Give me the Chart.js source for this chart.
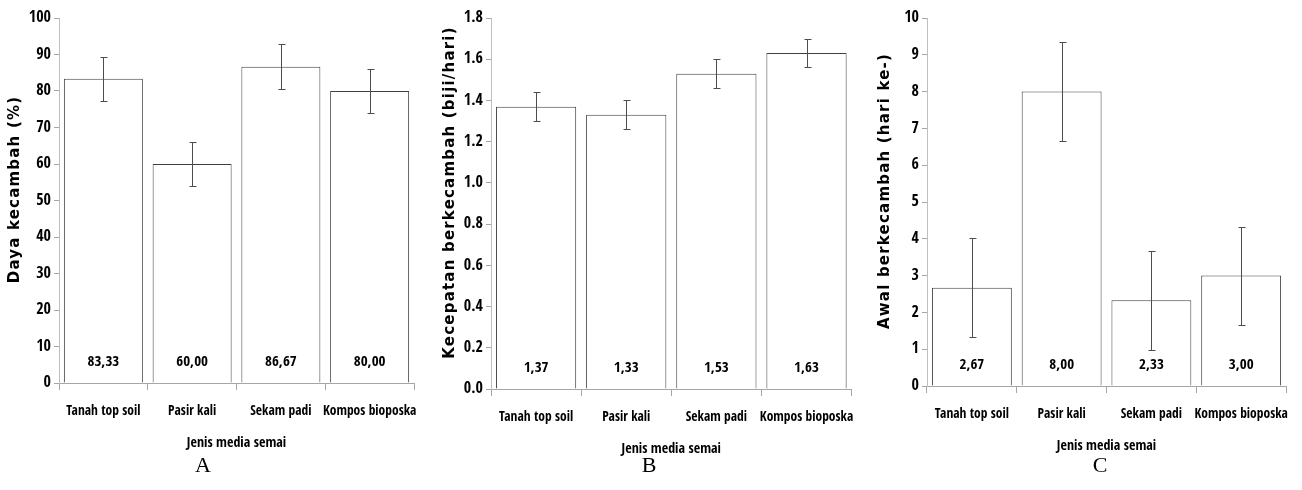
<!DOCTYPE html>
<html>
<head>
<meta charset="utf-8">
<script src="https://cdn.jsdelivr.net/npm/chart.js@4.4.0/dist/chart.umd.min.js"></script>
<style>
  body { margin: 0; background: #fff; }
  .wrap { position: absolute; top: 0; width: 434px; height: 490px; }
  .letter { position: absolute; top: 452px; font-family: "Liberation Serif", serif; font-size: 22px; color: #000; transform: translateX(-50%); }
</style>
</head>
<body>
<div class="wrap" style="left:0"><canvas id="chartA" width="434" height="490"></canvas></div>
<div class="wrap" style="left:434px"><canvas id="chartB" width="434" height="490"></canvas></div>
<div class="wrap" style="left:868px"><canvas id="chartC" width="434" height="490"></canvas></div>
<div class="letter" style="left:203px">A</div>
<div class="letter" style="left:649px">B</div>
<div class="letter" style="left:1100px">C</div>
<script>
const categories = ["Tanah top soil", "Pasir kali", "Sekam padi", "Kompos bioposka"];

// A - daya kecambah (%)
const dayaKecambah = [83.33, 60.00, 86.67, 80.00];
const dayaErr = [6.05, 5.9, 6.15, 6.0];

// B - kecepatan berkecambah (biji/hari)
const kecepatan = [1.37, 1.33, 1.53, 1.63];
const kecepatanErr = [0.07, 0.07, 0.07, 0.07];

// C - awal berkecambah (hari ke-)
const awal = [2.67, 8.00, 2.33, 3.00];
const awalErr = [1.35, 1.35, 1.35, 1.33];

const narrow = "'Open Sans Condensed', 'Roboto Condensed', sans-serif";

// error bars, value labels and the spaced-out y title
const barExtras = {
  id: 'barExtras',
  afterDatasetsDraw(chart, args, opts) {
    const ctx = chart.ctx;
    const y = chart.scales.y;
    const meta = chart.getDatasetMeta(0);
    const vals = chart.data.datasets[0].data;
    ctx.save();
    ctx.strokeStyle = '#4d4d4d';
    ctx.lineWidth = 1;
    meta.data.forEach((bar, i) => {
      const x = Math.round(bar.x) + 0.5;
      const yt = Math.round(y.getPixelForValue(vals[i] + opts.err[i])) + 0.5;
      const yb = Math.round(y.getPixelForValue(vals[i] - opts.err[i])) + 0.5;
      ctx.beginPath();
      ctx.moveTo(x, yt); ctx.lineTo(x, yb);
      ctx.moveTo(x - 3, yt); ctx.lineTo(x + 4, yt);
      ctx.moveTo(x - 3, yb); ctx.lineTo(x + 4, yb);
      ctx.stroke();
    });
    ctx.fillStyle = '#000';
    ctx.font = 'bold 15px ' + narrow;
    ctx.textAlign = 'center';
    ctx.textBaseline = 'middle';
    meta.data.forEach((bar, i) => {
      ctx.fillText(vals[i].toFixed(2).replace('.', ','), bar.x, y.getPixelForValue(0) - 21);
    });

    // y axis title
    ctx.translate(opts.titleX, (y.top + y.bottom) / 2 - 11);
    ctx.rotate(-Math.PI / 2);
    ctx.font = "bold 15px 'DejaVu Sans', sans-serif";
    ctx.letterSpacing = '1.2px';
    ctx.fillText(opts.title, 0, 0);
    ctx.restore();
  }
};

function makeChart(id, values, err, yMax, step, yTitle, pad, fmt) {
  new Chart(document.getElementById(id), {
    type: 'bar',
    data: {
      labels: categories,
      datasets: [{
        data: values,
        backgroundColor: '#fff',
        borderColor: '#404040',
        borderWidth: 1,
        barPercentage: 1,
        categoryPercentage: 0.89
      }]
    },
    options: {
      responsive: false,
      animation: false,
      layout: { padding: pad },
      plugins: {
        legend: { display: false },
        tooltip: { enabled: false },
        barExtras: { err: err, title: yTitle, titleX: pad.tx }
      },
      scales: {
        x: {
          afterFit(scale) { scale.height = 69; },
          grid: { drawOnChartArea: false, tickLength: 7, color: '#a6a6a6' },
          border: { color: '#a6a6a6' },
          ticks: { color: '#000', padding: 13, maxRotation: 0, minRotation: 0, autoSkip: false,
                   font: { family: narrow, size: 13.5, weight: 'bold' } },
          title: { display: true, text: 'Jenis media semai', color: '#000', padding: 0, font: { family: narrow, size: 14, weight: 'bold' } }
        },
        y: {
          min: 0,
          max: yMax,
          afterFit(scale) { scale.width = pad.yw; },
          grid: { drawOnChartArea: false, tickLength: 5, color: '#a6a6a6' },
          border: { color: '#bfbfbf' },
          ticks: { stepSize: step, color: '#000', padding: 3, callback: fmt, font: { family: narrow, size: 16, weight: 'bold' } }
        }
      }
    },
    plugins: [barExtras]
  });
}

makeChart('chartA', dayaKecambah, dayaErr, 100, 10, 'Daya kecambah (%)',
  { left: 0, top: 18, right: 20, bottom: 38, yw: 59, tx: 15 }, v => v);
makeChart('chartB', kecepatan, kecepatanErr, 1.8, 0.2, 'Kecepatan berkecambah (biji/hari)',
  { left: 0, top: 18, right: 14, bottom: 32, yw: 57, tx: 16 }, v => v.toFixed(1));
makeChart('chartC', awal, awalErr, 10, 1, 'Awal berkecambah (hari ke-)',
  { left: 0, top: 18, right: 9, bottom: 35, yw: 59, tx: 17 }, v => v);
</script>
</body>
</html>
